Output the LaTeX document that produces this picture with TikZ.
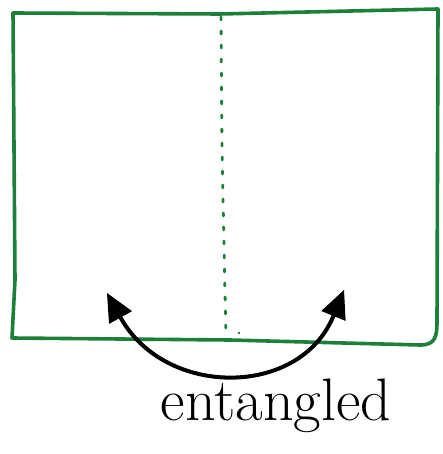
\documentclass[tikz,border=0pt]{standalone}
\usetikzlibrary{arrows.meta}
\definecolor{boxgreen}{RGB}{28,128,58}
\tikzset{
  frame/.style={draw=boxgreen, line width=3.6pt, line join=round, line cap=round},
  divider/.style={draw=boxgreen, line width=2.8pt, line cap=round, dash pattern=on 3pt off 11pt},
  entangle/.style={draw=black, line width=4pt, line cap=round,
    {Triangle[length=28pt,width=26pt,line width=1pt]}-{Triangle[length=28pt,width=26pt,line width=1pt]}},
  lbl/.style={font=\fontsize{60}{70}\selectfont, inner sep=0pt, anchor=base}
}
\begin{document}
\begin{tikzpicture}[x=1pt,y=-1pt]
\useasboundingbox (0,0) rectangle (442,454);
% frame
\draw[frame] (13,13) -- (220,14) -- (438,9) -- (437,320)
  .. controls (437,336) and (436,345) .. (420,345)
  -- (230,340) -- (12,338) -- (15,280) -- cycle;
% divider
\coordinate (dtop) at (221,17);
\coordinate (dbot) at (226,340);
\draw[divider] (dtop) -- (222,150) -- (dbot);
\fill[boxgreen] (239,333) circle (1.4pt);
% arrow
\coordinate (aL) at (107,293);
\coordinate (aR) at (344,290);
\draw[entangle] (aL) .. controls (165,398) and (300,398) .. (aR);
% label
\node[lbl] (txt) at (276,420) {entangled};
\end{tikzpicture}
\end{document}
